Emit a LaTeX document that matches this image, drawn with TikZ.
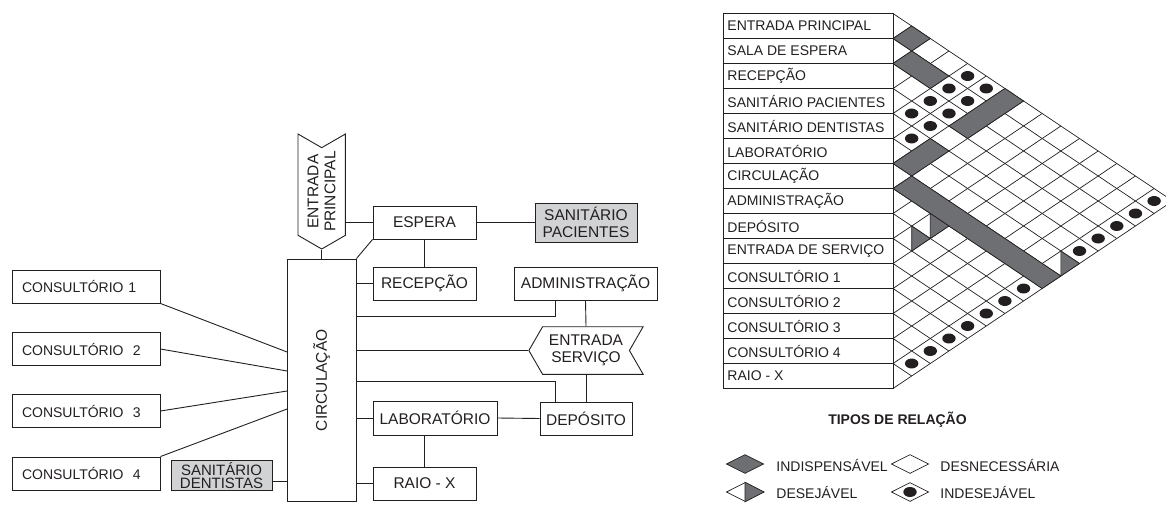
\documentclass[tikz,border=0pt]{standalone}
\usepackage{fontspec}
\setmainfont{Liberation Sans}
\usetikzlibrary{shapes.symbols,shapes.geometric}
\definecolor{ink}{RGB}{35,31,32}
\definecolor{relgray}{RGB}{110,111,114}
\definecolor{boxgray}{RGB}{209,210,212}

% cell (i,j) of the matrix sits at (j-i, i+j-1)
\newcommand{\band}[3]{\filldraw[relcell] ({#2-#1-1},{#1+#2-1}) -- ({#2-#1},{#1+#2-2}) -- ({#3-#1+1},{#1+#3-1}) -- ({#3-#1},{#1+#3}) -- cycle;}
\newcommand{\bandup}[3]{\filldraw[relcell] ({#1-#3-1},{#3+#1-1}) -- ({#1-#2},{#2+#1-2}) -- ({#1-#2+1},{#2+#1-1}) -- ({#1-#3},{#3+#1}) -- cycle;}
\newcommand{\halfcell}[2]{\filldraw[relcell] ({#2-#1},{#1+#2-2}) -- ({#2-#1+1},{#1+#2-1}) -- ({#2-#1},{#1+#2}) -- cycle;}
\newcommand{\badcell}[2]{\fill[ink] ({#2-#1},{#1+#2-1}) ellipse [x radius=6.7pt, y radius=5pt];}

\begin{document}
\begin{tikzpicture}[x=1pt, y=-1pt, line width=0.9pt, color=ink,
    box/.style={draw, inner sep=0pt, minimum height=33pt, font=\fontsize{15.5}{17}\selectfont},
    conbox/.style={box, minimum width=148pt, text width=128pt, inner xsep=10pt, align=left, font=\fontsize{14}{16}\selectfont},
    wcbox/.style={box, fill=boxgray, align=center},
    sigbox/.style={box, shape=signal, signal to=west, signal from=east, signal pointer angle=120, align=center},
    rowlab/.style={anchor=west, inner sep=0pt, font=\fontsize{14}{16}\selectfont},
    gridline/.style={line width=0.7pt},
    relcell/.style={fill=relgray, draw=ink, line width=0.7pt},
    legcell/.style={shape=diamond, draw, line width=0.7pt, inner sep=0pt, minimum width=37.3pt, minimum height=19pt},
    legtext/.style={anchor=west, inner sep=0pt, font=\fontsize{14}{16}\selectfont}]
  \useasboundingbox (0,0) rectangle (1166,505);

  % fluxograma
  \node[conbox] (c1) at (86,286.5) {CONSULTÓRIO 1};
  \node[conbox] (c2) at (86,349)   {CONSULTÓRIO~~2};
  \node[conbox] (c3) at (86,411)   {CONSULTÓRIO~~3};
  \node[conbox] (c4) at (86,473.5) {CONSULTÓRIO~~4};
  \node[wcbox, minimum width=101pt, minimum height=30pt, font=\fontsize{15}{13.5}\selectfont] (sdent) at (221.5,475.5) {SANITÁRIO\\DENTISTAS};
  \node[box, minimum width=68.5pt, minimum height=242.5pt] (circ) at (321.75,380.25) {};
  \node[rotate=90, font=\fontsize{15.5}{17}\selectfont] (circlab) at (circ) {CIRCULAÇÃO};
  \node[sigbox, rotate=90, minimum width=115pt, minimum height=47.4pt] (entp) at (321.7,191.5) {ENTRADA\\PRINCIPAL};
  \node[box, minimum width=103pt] (espera) at (424.5,222.5) {ESPERA};
  \node[wcbox, minimum width=102pt, minimum height=39pt] (spac) at (586,222.5) {SANITÁRIO\\PACIENTES};
  \node[box, minimum width=103pt] (recep) at (424.5,283.5) {RECEPÇÃO};
  \node[box, minimum width=143pt] (admin) at (585.5,283.5) {ADMINISTRAÇÃO};
  \node[sigbox, minimum width=114.3pt, minimum height=47.6pt] (ents) at (586,350.5) {ENTRADA\\SERVIÇO};
  \node[box, minimum width=92pt] (dep) at (586,418.5) {DEPÓSITO};
  \node[box, minimum width=124pt, minimum height=34pt] (lab) at (435,418) {LABORATÓRIO};
  \node[box, minimum width=103pt] (raio) at (424.5,483.5) {RAIO - X};

  \draw (c1.south east) -- (circ.west |- 0,352);
  \draw (c2.east) -- (circ.west |- 0,371);
  \draw (c3.east) -- (circ.west |- 0,391);
  \draw (c4.north east) -- (circ.west |- 0,409);
  \draw (sdent.east |- 0,481) -- (circ.west |- 0,481);
  \draw (entp.west) -- (entp.west |- circ.north);
  \draw (entp.south |- espera.west) -- (espera.west);
  \draw (espera.south west) -- (circ.north east);
  \draw (espera.east) -- (spac.west);
  \draw (espera.south) -- (recep.north);
  \draw (circ.east |- recep.west) -- (recep.west);
  \draw (circ.east |- 0,316.7) -| ([xshift=-30.5pt]admin.south);
  \draw (admin.south) -- (ents.north);
  \draw (circ.east |- ents.west) -- (ents.west);
  \draw (ents.south) -- (dep.north);
  \draw (circ.east |- 0,381.7) -| ([xshift=-31pt]dep.north);
  \draw (circ.east |- lab.west) -- (lab.west);
  \draw (lab.east) -- (dep.west);
  \draw (circ.east |- raio.west) -- (raio.west);
  \draw (raio.north |- lab.south) -- (raio.north);

  % matriz de relacoes
  \draw[gridline] (723.3,13.5) rectangle (893,388.5);
  \foreach \r in {1,...,14}
    \draw[gridline] (723.3,{13.5+25*\r}) -- (893,{13.5+25*\r});
  \foreach \lab [count=\r] in {ENTRADA PRINCIPAL, SALA DE ESPERA, RECEPÇÃO,
      SANITÁRIO PACIENTES, SANITÁRIO DENTISTAS, LABORATÓRIO, CIRCULAÇÃO,
      ADMINISTRAÇÃO, DEPÓSITO, ENTRADA DE SERVIÇO, CONSULTÓRIO 1,
      CONSULTÓRIO 2, CONSULTÓRIO 3, CONSULTÓRIO 4, RAIO - X}
    \node[rowlab] (row\r) at (727,{1+25*\r}) {\lab};

  \begin{scope}[shift={(893,13.5)}, x=18.65pt, y=-12.5pt]
    \foreach \k in {0,...,14}
      \draw[gridline] (0,{2*\k}) -- ({15-\k},{15+\k});
    \foreach \k in {1,...,15}
      \draw[gridline] (0,{2*\k}) -- (\k,\k);
    \band{1}{2}{2}
    \band{2}{3}{4}
    \bandup{7}{1}{3}
    \bandup{7}{5}{6}
    \band{7}{8}{15}
    \halfcell{8}{10}
    \halfcell{9}{10}
    \halfcell{6}{15}
    \foreach \i/\j in {1/5, 2/5, 3/5, 4/5, 1/6, 2/6, 3/6, 4/6, 5/6,
        1/15, 2/15, 3/15, 4/15, 5/15, 8/15, 9/15, 10/15, 11/15, 12/15, 13/15, 14/15}
      {\badcell{\i}{\j}}
  \end{scope}

  % legenda
  \node[font=\fontsize{14}{16}\bfseries] (legtit) at (897.5,420) {TIPOS DE RELAÇÃO};
  \node[legcell, fill=relgray] (lind) at (745,464) {};
  \node[legtext] (tind) at (776,465) {INDISPENSÁVEL};
  \node[legcell] (ldesn) at (910,464) {};
  \node[legtext] (tdesn) at (940,465) {DESNECESSÁRIA};
  \node[legcell] (ldesj) at (745,492) {};
  \filldraw[relcell] (ldesj.north) -- (ldesj.east) -- (ldesj.south) -- cycle;
  \node[legtext] (tdesj) at (776,492) {DESEJÁVEL};
  \node[legcell] (lindes) at (910,492) {};
  \fill[ink] (lindes) ellipse [x radius=6.7pt, y radius=5pt];
  \node[legtext] (tindes) at (940,492) {INDESEJÁVEL};
\end{tikzpicture}
\end{document}
